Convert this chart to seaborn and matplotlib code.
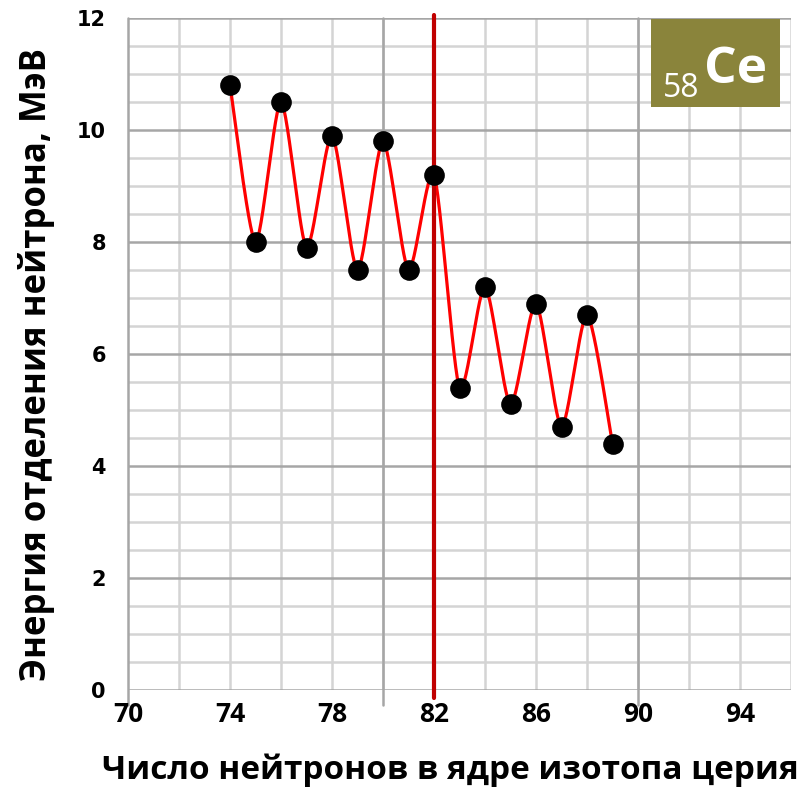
import numpy as np
import pandas as pd
import seaborn as sns
import matplotlib.pyplot as plt
from matplotlib.patches import Rectangle

# data
neutrons = [74, 75, 76, 77, 78, 79, 80, 81, 82, 83, 84, 85, 86, 87, 88, 89]
energy = [10.8, 8.0, 10.5, 7.9, 9.9, 7.5, 9.8, 7.5, 9.2, 5.4, 7.2, 5.1, 6.9, 4.7, 6.7, 4.4]
x_ticks = [70, 74, 78, 82, 86, 90, 94]
y_ticks = [0, 2, 4, 6, 8, 10, 12]
magic_n = 82
element = "Ce"
z_number = "58"
x_label = "Число нейтронов в ядре изотопа церия"
y_label = "Энергия отделения нейтрона, МэВ"


def smooth_curve(x, y, steps=30, k=8.0):
    """Excel-like smoothed line: cubic Bezier segments, tangent scale 1/k."""
    p = np.column_stack([x, y]).astype(float)
    p_ext = np.vstack([p[0], p, p[-1]])
    t = np.linspace(0, 1, steps)[:, None]
    out = []
    for i in range(len(p) - 1):
        p0, p3 = p_ext[i + 1], p_ext[i + 2]
        c1 = p0 + (p_ext[i + 2] - p_ext[i]) / k
        c2 = p3 - (p_ext[i + 3] - p_ext[i + 1]) / k
        seg = ((1 - t) ** 3) * p0 + 3 * ((1 - t) ** 2) * t * c1 + 3 * (1 - t) * t ** 2 * c2 + t ** 3 * p3
        out.append(seg if i == 0 else seg[1:])
    out = np.vstack(out)
    return out[:, 0], out[:, 1]


sns.set_style("white")
plt.rcParams['font.family'] = ['Open Sans', 'DejaVu Sans']

fig = plt.figure(figsize=(8.06, 7.89), dpi=100)
ax = fig.add_axes([128 / 806, 1 - 690 / 789, 663 / 806, 672 / 789])

ax.set_xlim(70, 96)
ax.set_ylim(0, 12)

# grid
light = '#D4D4D4'
dark = '#A6A6A6'
for xv in range(72, 97, 2):
    ax.axvline(xv, color=light, lw=1.8, zorder=0)
for yv in np.arange(0.5, 12.01, 0.5):
    ax.axhline(yv, color=dark if yv % 2 == 0 else light, lw=1.8, zorder=0)
for xv in [70, 80, 90]:
    ax.axvline(xv, ymin=-0.022, ymax=1, color=dark, lw=1.8, zorder=0.5, clip_on=False)
ax.axhline(0, color=dark, lw=1.8, zorder=0.5)

for s in ax.spines.values():
    s.set_visible(False)

# curve and points
sx, sy = smooth_curve(neutrons, energy)
sns.lineplot(x=sx, y=sy, sort=False, color='#FF0000', lw=2.3, ax=ax, zorder=3)
ax.axvline(magic_n, ymin=-0.012, ymax=1.005, color='#C00000', lw=3, zorder=4, clip_on=False)
df = pd.DataFrame({'n': neutrons, 'e': energy})
sns.scatterplot(data=df, x='n', y='e', color='black', s=190, edgecolor='black', ax=ax, zorder=5)

# ticks
ax.set_xticks(x_ticks)
ax.set_xticklabels([str(v) for v in x_ticks], fontsize=19, fontweight='bold')
ax.set_yticks(y_ticks)
ax.set_yticklabels([str(v) for v in y_ticks], fontsize=15, fontweight='heavy', family='DejaVu Sans')
ax.set_yticks(np.arange(0, 12.01, 0.5), minor=True)
ax.tick_params(axis='x', length=0, pad=8, labelcolor='black')
ax.tick_params(axis='y', which='major', length=6, color=dark, width=1.5, pad=10, labelcolor='black')
ax.tick_params(axis='y', which='minor', length=6, color=dark, width=1.5)

ax.set_xlabel(x_label, fontsize=24, fontweight='bold', color='black')
ax.set_ylabel(y_label, fontsize=25, fontweight='bold', color='black')
ax.xaxis.set_label_coords(0.486, -0.095)
ax.yaxis.set_label_coords(-0.11, 0.484)

# element badge
ax.add_patch(Rectangle((0.789, 0.8676), 0.194, 0.131, transform=ax.transAxes,
                       facecolor='#8A843B', edgecolor='none', zorder=6))
ax.text(0.917, 0.903, element, transform=ax.transAxes, color='white', fontsize=37,
        fontweight='bold', ha='center', va='baseline', zorder=7)
ax.text(0.807, 0.882, z_number, transform=ax.transAxes, color='white', fontsize=23,
        ha='left', va='baseline', zorder=7)

fig.savefig('out.png', dpi=100, facecolor='white')
